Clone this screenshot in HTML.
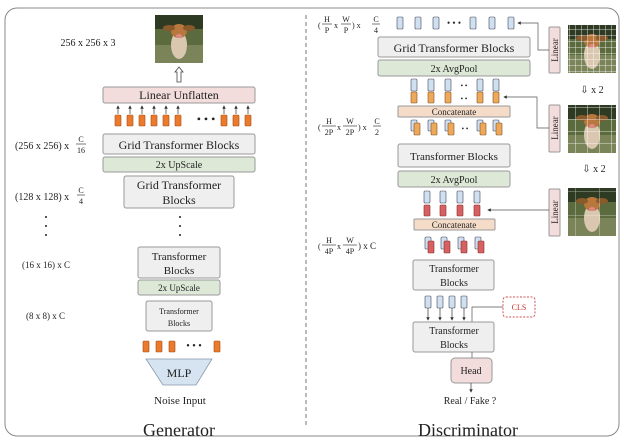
<!DOCTYPE html>
<html><head><meta charset="utf-8"><style>
body{margin:0;background:#fff}
svg text{font-family:"Liberation Serif",serif;fill:#222}
</style></head><body>
<svg width="624" height="442" viewBox="0 0 624 442" xmlns="http://www.w3.org/2000/svg">
<defs>
<marker id="a" markerWidth="5" markerHeight="5" refX="4" refY="2.5" orient="auto"><path d="M0,0L5,2.5L0,5z" fill="#333"/></marker>
<g id="dog">
<rect width="48" height="48" fill="#5b6b3e"/>
<rect y="0" width="48" height="14" fill="#2f3a22"/>
<rect y="30" width="48" height="18" fill="#7b8458"/>
<ellipse cx="24" cy="30" rx="8" ry="14" fill="#d9c7b0"/>
<ellipse cx="24" cy="16" rx="8" ry="7" fill="#b8773d"/>
<ellipse cx="14" cy="13" rx="6" ry="3" fill="#8a5a2b"/>
<ellipse cx="34" cy="13" rx="6" ry="3" fill="#8a5a2b"/>
<ellipse cx="24" cy="21" rx="3" ry="2" fill="#d88"/>
</g>
<pattern id="g1" width="6" height="6" patternUnits="userSpaceOnUse"><path d="M6,0V6M0,6H6" stroke="#fff" stroke-width="0.8" fill="none"/></pattern>
<pattern id="g2" width="12" height="12" patternUnits="userSpaceOnUse"><path d="M12,0V12M0,12H12" stroke="#fff" stroke-width="0.8" fill="none"/></pattern>
<pattern id="g3" width="24" height="24" patternUnits="userSpaceOnUse"><path d="M24,0V24M0,24H24" stroke="#fff" stroke-width="0.8" fill="none" opacity="0.7"/></pattern>
</defs>
<rect x="5" y="8" width="614" height="428" rx="12" fill="none" stroke="#888" stroke-width="1"/>
<line x1="306" y1="15" x2="306" y2="428" stroke="#777" stroke-dasharray="4,3"/>

<!-- Generator -->
<use href="#dog" x="155" y="15"/>
<text x="88" y="46" font-size="10" text-anchor="middle">256 x 256 x 3</text>
<path d="M177,82V72H175L179,67L183,72H181V82Z" fill="#fff" stroke="#444" stroke-width="0.8"/>
<rect x="103" y="87" width="152" height="16" rx="2" fill="#f2dcdc" stroke="#999"/>
<text x="179" y="99" font-size="12" text-anchor="middle">Linear Unflatten</text>
<g fill="#ec7a2c" stroke="#a04a10" stroke-width="0.6">
<rect x="115" y="115" width="6" height="11" rx="1"/><rect x="127" y="115" width="6" height="11" rx="1"/><rect x="139" y="115" width="6" height="11" rx="1"/><rect x="151" y="115" width="6" height="11" rx="1"/><rect x="163" y="115" width="6" height="11" rx="1"/><rect x="175" y="115" width="6" height="11" rx="1"/><rect x="221" y="115" width="6" height="11" rx="1"/><rect x="233" y="115" width="6" height="11" rx="1"/><rect x="245" y="115" width="6" height="11" rx="1"/>
</g>
<g stroke="#333" stroke-width="0.7" marker-end="url(#a)">
<line x1="118" y1="114" x2="118" y2="106"/><line x1="130" y1="114" x2="130" y2="106"/><line x1="142" y1="114" x2="142" y2="106"/><line x1="154" y1="114" x2="154" y2="106"/><line x1="166" y1="114" x2="166" y2="106"/><line x1="178" y1="114" x2="178" y2="106"/><line x1="224" y1="114" x2="224" y2="106"/><line x1="236" y1="114" x2="236" y2="106"/><line x1="248" y1="114" x2="248" y2="106"/>
</g>
<text x="206" y="123" font-size="12" text-anchor="middle">• • •</text>
<rect x="103" y="134" width="152" height="20" rx="2" fill="#efefef" stroke="#999"/>
<text x="179" y="149" font-size="12" text-anchor="middle">Grid Transformer Blocks</text>
<rect x="103" y="157" width="152" height="15" rx="2" fill="#dde8d6" stroke="#999"/>
<text x="179" y="168" font-size="10" text-anchor="middle">2x UpScale</text>
<rect x="124" y="176" width="110" height="32" rx="2" fill="#efefef" stroke="#999"/>
<text x="179" y="189" font-size="12" text-anchor="middle">Grid Transformer</text>
<text x="179" y="204" font-size="12" text-anchor="middle">Blocks</text>
<text x="15" y="149" font-size="10">(256 x 256) x</text>
<text x="81" y="142" font-size="8" text-anchor="middle">C</text><line x1="76" y1="144" x2="86" y2="144" stroke="#222" stroke-width="0.6"/><text x="81" y="153" font-size="8" text-anchor="middle">16</text>
<text x="15" y="200" font-size="10">(128 x 128) x</text>
<text x="81" y="193" font-size="8" text-anchor="middle">C</text><line x1="77" y1="195" x2="85" y2="195" stroke="#222" stroke-width="0.6"/><text x="81" y="204" font-size="8" text-anchor="middle">4</text>
<g fill="#222"><circle cx="46" cy="217" r="1"/><circle cx="46" cy="226" r="1"/><circle cx="46" cy="235" r="1"/><circle cx="180" cy="217" r="1"/><circle cx="180" cy="226" r="1"/><circle cx="180" cy="235" r="1"/></g>
<rect x="138" y="247" width="82" height="31" rx="2" fill="#efefef" stroke="#999"/>
<text x="179" y="260" font-size="11" text-anchor="middle">Transformer</text>
<text x="179" y="274" font-size="11" text-anchor="middle">Blocks</text>
<text x="22" y="268" font-size="9">(16 x 16) x C</text>
<rect x="138" y="280" width="82" height="15" rx="2" fill="#dde8d6" stroke="#999"/>
<text x="179" y="291" font-size="9" text-anchor="middle">2x UpScale</text>
<rect x="146" y="301" width="66" height="30" rx="2" fill="#efefef" stroke="#999"/>
<text x="179" y="314" font-size="8" text-anchor="middle">Transformer</text>
<text x="179" y="326" font-size="8" text-anchor="middle">Blocks</text>
<text x="26" y="319" font-size="9">(8 x 8) x C</text>
<g fill="#ec7a2c" stroke="#a04a10" stroke-width="0.6">
<rect x="143" y="341" width="6" height="11" rx="1"/><rect x="156" y="341" width="6" height="11" rx="1"/><rect x="169" y="341" width="6" height="11" rx="1"/><rect x="214" y="341" width="6" height="11" rx="1"/>
</g>
<text x="194" y="349" font-size="10" text-anchor="middle">• • •</text>
<path d="M146,359H212L196,385H163Z" fill="#d6e3f0" stroke="#8899aa" stroke-width="0.8"/>
<text x="179" y="377" font-size="12" text-anchor="middle">MLP</text>
<text x="180" y="404" font-size="11" text-anchor="middle">Noise Input</text>
<text x="179" y="436" font-size="18" text-anchor="middle">Generator</text>

<!-- Discriminator -->
<g font-size="8">
<text x="318" y="28">(</text><text x="327" y="22" text-anchor="middle">H</text><line x1="322" y1="24" x2="332" y2="24" stroke="#222" stroke-width="0.6"/><text x="327" y="33" text-anchor="middle">P</text>
<text x="334" y="28">x</text><text x="346" y="22" text-anchor="middle">W</text><line x1="341" y1="24" x2="351" y2="24" stroke="#222" stroke-width="0.6"/><text x="346" y="33" text-anchor="middle">P</text>
<text x="352" y="28">) x</text><text x="376" y="22" text-anchor="middle">C</text><line x1="372" y1="24" x2="380" y2="24" stroke="#222" stroke-width="0.6"/><text x="376" y="33" text-anchor="middle">4</text>
<text x="318" y="130">(</text><text x="329" y="124" text-anchor="middle">H</text><line x1="322" y1="126" x2="336" y2="126" stroke="#222" stroke-width="0.6"/><text x="329" y="135" text-anchor="middle">2P</text>
<text x="337" y="130">x</text><text x="350" y="124" text-anchor="middle">W</text><line x1="343" y1="126" x2="357" y2="126" stroke="#222" stroke-width="0.6"/><text x="350" y="135" text-anchor="middle">2P</text>
<text x="358" y="130">) x</text><text x="377" y="124" text-anchor="middle">C</text><line x1="373" y1="126" x2="381" y2="126" stroke="#222" stroke-width="0.6"/><text x="377" y="135" text-anchor="middle">2</text>
<text x="318" y="249">(</text><text x="329" y="243" text-anchor="middle">H</text><line x1="322" y1="245" x2="336" y2="245" stroke="#222" stroke-width="0.6"/><text x="329" y="254" text-anchor="middle">4P</text>
<text x="337" y="249">x</text><text x="350" y="243" text-anchor="middle">W</text><line x1="343" y1="245" x2="357" y2="245" stroke="#222" stroke-width="0.6"/><text x="350" y="254" text-anchor="middle">4P</text>
<text x="358" y="249" font-size="9">) x C</text>
</g>
<g fill="#cfe0f0" stroke="#445" stroke-width="0.6">
<rect x="397" y="17" width="6" height="12" rx="1"/><rect x="415" y="17" width="6" height="12" rx="1"/><rect x="433" y="17" width="6" height="12" rx="1"/><rect x="470" y="17" width="6" height="12" rx="1"/><rect x="489" y="17" width="6" height="12" rx="1"/><rect x="508" y="17" width="6" height="12" rx="1"/>
<rect x="411" y="79" width="6" height="12" rx="1"/><rect x="428" y="79" width="6" height="12" rx="1"/><rect x="445" y="79" width="6" height="12" rx="1"/><rect x="477" y="79" width="6" height="12" rx="1"/><rect x="493" y="79" width="6" height="12" rx="1"/>
<rect x="411" y="120" width="6" height="11" rx="1"/><rect x="428" y="120" width="6" height="11" rx="1"/><rect x="445" y="120" width="6" height="11" rx="1"/><rect x="477" y="120" width="6" height="11" rx="1"/><rect x="493" y="120" width="6" height="11" rx="1"/>
<rect x="424" y="191" width="6" height="12" rx="1"/><rect x="440" y="191" width="6" height="12" rx="1"/><rect x="457" y="191" width="6" height="12" rx="1"/><rect x="474" y="191" width="6" height="12" rx="1"/>
<rect x="425" y="237" width="6" height="12" rx="1"/><rect x="441" y="237" width="6" height="12" rx="1"/><rect x="458" y="237" width="6" height="12" rx="1"/><rect x="475" y="237" width="6" height="12" rx="1"/>
<rect x="425" y="296" width="6" height="12" rx="1"/><rect x="437" y="296" width="6" height="12" rx="1"/><rect x="449" y="296" width="6" height="12" rx="1"/><rect x="461" y="296" width="6" height="12" rx="1"/>
</g>
<g fill="#eea85a" stroke="#805020" stroke-width="0.6">
<rect x="411" y="92" width="6" height="11" rx="1"/><rect x="428" y="92" width="6" height="11" rx="1"/><rect x="445" y="92" width="6" height="11" rx="1"/><rect x="477" y="92" width="6" height="11" rx="1"/><rect x="493" y="92" width="6" height="11" rx="1"/>
<rect x="414" y="123" width="6" height="12" rx="1"/><rect x="431" y="123" width="6" height="12" rx="1"/><rect x="448" y="123" width="6" height="12" rx="1"/><rect x="480" y="123" width="6" height="12" rx="1"/><rect x="496" y="123" width="6" height="12" rx="1"/>
</g>
<g fill="#d86060" stroke="#803030" stroke-width="0.6">
<rect x="424" y="205" width="6" height="11" rx="1"/><rect x="440" y="205" width="6" height="11" rx="1"/><rect x="457" y="205" width="6" height="11" rx="1"/><rect x="474" y="205" width="6" height="11" rx="1"/>
<rect x="428" y="241" width="6" height="12" rx="1"/><rect x="444" y="241" width="6" height="12" rx="1"/><rect x="461" y="241" width="6" height="12" rx="1"/><rect x="478" y="241" width="6" height="12" rx="1"/>
</g>
<text x="454" y="26" font-size="9" text-anchor="middle">• • •</text>
<text x="464" y="88" font-size="7" text-anchor="middle">• •</text>
<text x="464" y="101" font-size="7" text-anchor="middle">• •</text>
<text x="465" y="131" font-size="7" text-anchor="middle">• •</text>
<rect x="378" y="37" width="152" height="20" rx="2" fill="#efefef" stroke="#999"/>
<text x="454" y="52" font-size="12" text-anchor="middle">Grid Transformer Blocks</text>
<rect x="378" y="60" width="152" height="16" rx="2" fill="#dde8d6" stroke="#999"/>
<text x="454" y="72" font-size="10" text-anchor="middle">2x AvgPool</text>
<rect x="398" y="106" width="112" height="11" rx="1" fill="#f5dcc8" stroke="#999"/>
<text x="454" y="115" font-size="9" text-anchor="middle">Concatenate</text>
<rect x="398" y="144" width="112" height="23" rx="2" fill="#efefef" stroke="#999"/>
<text x="454" y="160" font-size="11" text-anchor="middle">Transformer Blocks</text>
<rect x="398" y="171" width="112" height="16" rx="2" fill="#dde8d6" stroke="#999"/>
<text x="454" y="183" font-size="10" text-anchor="middle">2x AvgPool</text>
<rect x="414" y="219" width="81" height="11" rx="1" fill="#f5dcc8" stroke="#999"/>
<text x="454" y="228" font-size="9" text-anchor="middle">Concatenate</text>
<rect x="413" y="260" width="81" height="30" rx="2" fill="#efefef" stroke="#999"/>
<text x="454" y="272" font-size="10" text-anchor="middle">Transformer</text>
<text x="454" y="286" font-size="10" text-anchor="middle">Blocks</text>
<g stroke="#333" stroke-width="0.7" marker-end="url(#a)">
<line x1="428" y1="308" x2="428" y2="320"/><line x1="440" y1="308" x2="440" y2="320"/><line x1="452" y1="308" x2="452" y2="320"/><line x1="464" y1="308" x2="464" y2="320"/>
</g>
<rect x="503" y="297" width="32" height="20" rx="3" fill="none" stroke="#c55" stroke-dasharray="2,1.5"/>
<text x="519" y="310" font-size="8" text-anchor="middle" style="fill:#c33">CLS</text>
<path d="M503,307H472V322" fill="none" stroke="#555" stroke-width="0.7"/>
<rect x="413" y="322" width="81" height="30" rx="2" fill="#efefef" stroke="#999"/>
<text x="454" y="334" font-size="10" text-anchor="middle">Transformer</text>
<text x="454" y="348" font-size="10" text-anchor="middle">Blocks</text>
<line x1="472" y1="352" x2="472" y2="358" stroke="#555" stroke-width="0.7"/>
<rect x="451" y="358" width="41" height="25" rx="4" fill="#f2dcdc" stroke="#999"/>
<text x="471" y="374" font-size="10" text-anchor="middle">Head</text>
<line x1="471" y1="383" x2="471" y2="392" stroke="#333" stroke-width="0.7" marker-end="url(#a)"/>
<text x="470" y="404" font-size="10" text-anchor="middle">Real / Fake ?</text>
<text x="468" y="436" font-size="18" text-anchor="middle">Discriminator</text>

<!-- right side -->
<g fill="#f2dcdc" stroke="#999">
<rect x="549" y="27" width="11" height="46" rx="1"/><rect x="549" y="105" width="11" height="47" rx="1"/><rect x="549" y="189" width="11" height="47" rx="1"/>
</g>
<text font-size="9" transform="translate(558,50) rotate(-90)" text-anchor="middle">Linear</text>
<text font-size="9" transform="translate(558,128) rotate(-90)" text-anchor="middle">Linear</text>
<text font-size="9" transform="translate(558,212) rotate(-90)" text-anchor="middle">Linear</text>
<use href="#dog" x="568" y="25"/><rect x="568" y="25" width="48" height="48" fill="url(#g1)"/>
<use href="#dog" x="568" y="105"/><rect x="568" y="105" width="48" height="48" fill="url(#g2)"/>
<use href="#dog" x="568" y="188"/><rect x="568" y="188" width="48" height="48" fill="url(#g3)"/>
<text x="592" y="93" font-size="10" text-anchor="middle">⇩ x 2</text>
<text x="594" y="172" font-size="10" text-anchor="middle">⇩ x 2</text>
<g fill="none" stroke="#555" stroke-width="0.7">
<path d="M549,50H538V23H518" marker-end="url(#a)"/>
<path d="M549,128H537V97H504" marker-end="url(#a)"/>
<path d="M549,210H488" marker-end="url(#a)"/>
</g>
</svg>
</body></html>
